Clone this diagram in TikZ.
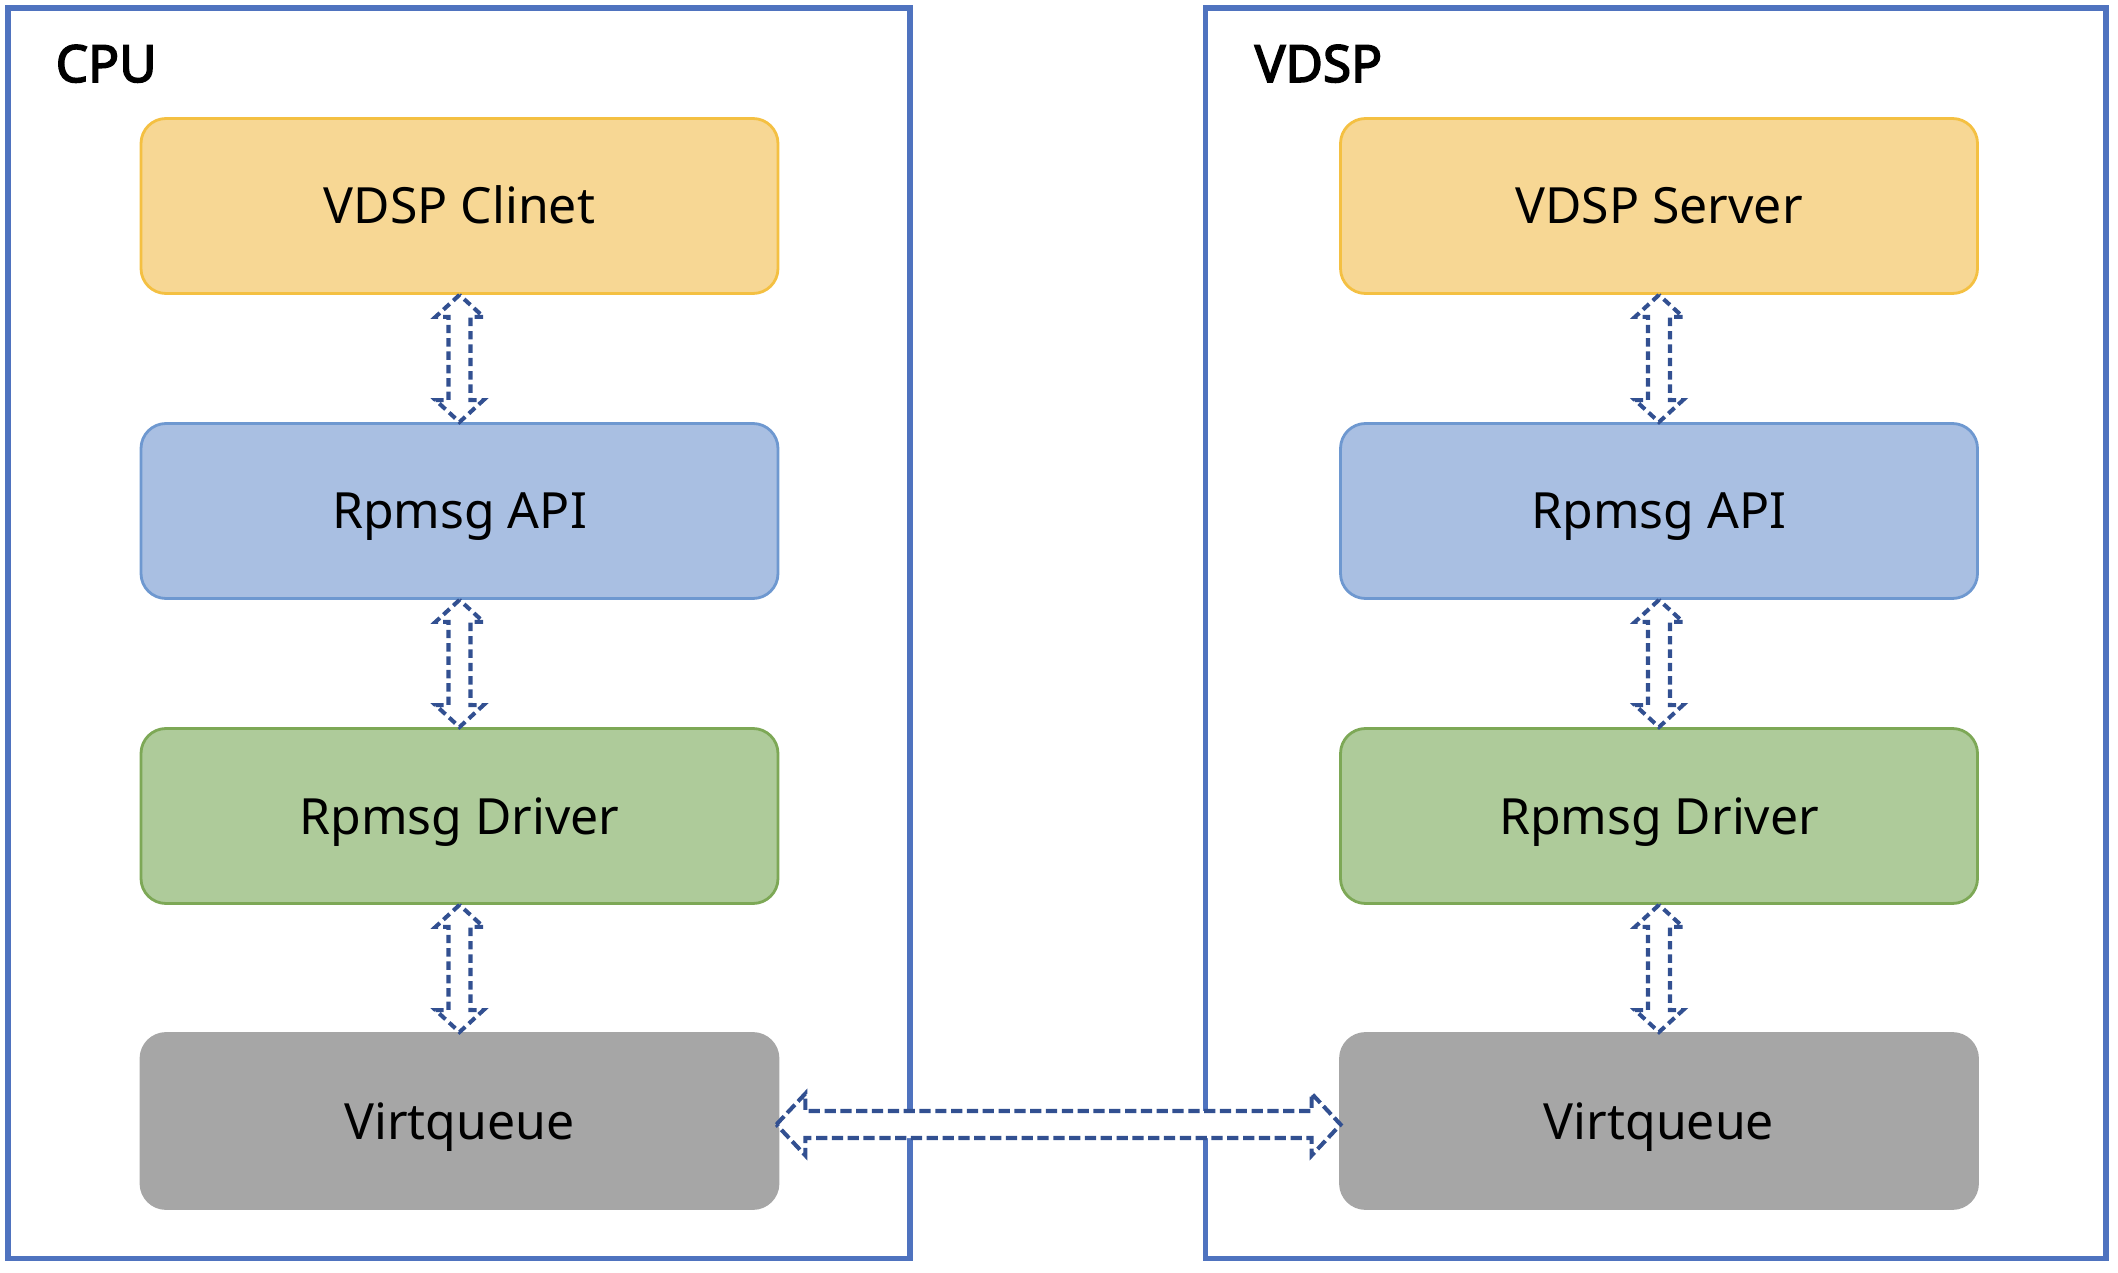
\documentclass[tikz,border=0pt]{standalone}
\usepackage{fontspec}
\setmainfont{Noto Sans}[AutoFakeBold=3]
\usetikzlibrary{positioning,calc}

\definecolor{frameblue}{RGB}{79,115,191}
\definecolor{linkblue}{RGB}{50,80,145}
\definecolor{appfill}{RGB}{247,215,148}
\definecolor{appedge}{RGB}{244,192,66}
\definecolor{apifill}{RGB}{169,191,226}
\definecolor{apiedge}{RGB}{110,152,208}
\definecolor{drvfill}{RGB}{174,203,154}
\definecolor{drvedge}{RGB}{125,168,86}
\definecolor{vqfill}{RGB}{166,166,166}

\begin{document}
\begin{tikzpicture}[node distance=3.05cm,
    layer/.style={rectangle, rounded corners=0.25cm, draw, line width=0.8pt,
                  minimum width=6.37cm, minimum height=1.75cm,
                  text height=0.36cm, text depth=0cm,
                  font=\fontsize{14.2}{17}\selectfont},
    title/.style={anchor=base west, inner sep=0pt,
                  font=\bfseries\fontsize{14.6}{17}\selectfont},
    link/.style={draw=linkblue, fill=white, line width=1.15pt,
                 dash pattern=on 2.4pt off 1.4pt}]
    \useasboundingbox (0,0) rectangle (21.18,12.72);

    % the two processors
    \draw[frameblue, line width=1.6pt] (0.08,0.135) rectangle (9.10,12.638);
    \draw[frameblue, line width=1.6pt] (12.054,0.135) rectangle (21.06,12.638);
    \node[title] (cpu) at (0.55,11.90) {CPU};
    \node[title] (vdsp) at (12.54,11.90) {VDSP};

    % CPU side
    \node[layer, draw=appedge, fill=appfill] (c1) at (4.595,10.66) {VDSP Clinet};
    \node[layer, draw=apiedge, fill=apifill] (c2) [below of=c1] {Rpmsg API};
    \node[layer, draw=drvedge, fill=drvfill] (c3) [below of=c2] {Rpmsg Driver};
    \node[layer, draw=vqfill, fill=vqfill] (c4) [below of=c3] {Virtqueue};

    % VDSP side
    \node[layer, draw=appedge, fill=appfill] (v1) at (16.59,10.66) {VDSP Server};
    \node[layer, draw=apiedge, fill=apifill] (v2) [below of=v1] {Rpmsg API};
    \node[layer, draw=drvedge, fill=drvfill] (v3) [below of=v2] {Rpmsg Driver};
    \node[layer, draw=vqfill, fill=vqfill] (v4) [below of=v3] {Virtqueue};

    % hollow double arrows between layers
    \foreach \a/\b in {c1/c2,c2/c3,c3/c4,v1/v2,v2/v3,v3/v4}
        \draw[link] (\a.south) -- ++(-0.24,-0.22) -- ++(0.13,0)
            -- ($(\b.north)+(-0.11,0.22)$) -- ++(-0.13,0) -- (\b.north)
            -- ++(0.24,0.22) -- ++(-0.13,0)
            -- ($(\a.south)+(0.11,-0.22)$) -- ++(0.13,0) -- cycle;

    % link between the two virtqueues
    \coordinate (lt) at ($(c4.east)+(-0.03,-0.035)$);
    \coordinate (rt) at ($(v4.west)+(0.015,-0.035)$);
    \draw[link, dash pattern=on 3.2pt off 1.3pt] (lt) -- ++(0.29,0.31) -- ++(0,-0.175)
        -- ($(rt)+(-0.29,0.135)$) -- ++(0,0.175) -- (rt)
        -- ++(-0.29,-0.31) -- ++(0,0.175)
        -- ($(lt)+(0.29,-0.135)$) -- ++(0,-0.175) -- cycle;
\end{tikzpicture}
\end{document}
